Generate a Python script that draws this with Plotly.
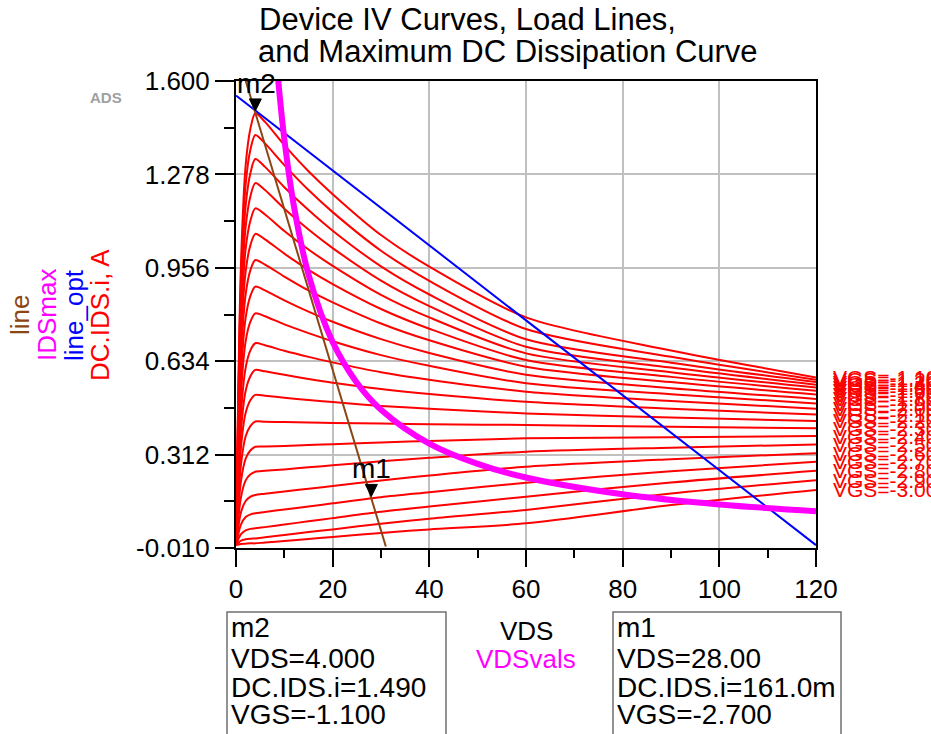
import plotly.graph_objects as go

# ---------------- data ----------------
VDS = [0, 1, 2, 3, 4, 6, 10, 15, 20, 30, 40, 60, 90, 120]
VGS = [-1.1, -1.2, -1.3, -1.4, -1.5, -1.6, -1.7, -1.8, -1.9, -2.0,
       -2.1, -2.2, -2.3, -2.4, -2.5, -2.6, -2.7, -2.8, -2.9, -3.0]

IDS_M110 = [0, 0.953, 1.310, 1.437, 1.489, 1.459, 1.379, 1.289, 1.210, 1.069, 0.960, 0.785, 0.671, 0.578]
IDS_M120 = [0, 0.905, 1.244, 1.365, 1.414, 1.385, 1.310, 1.224, 1.148, 1.015, 0.911, 0.745, 0.649, 0.570]
IDS_M130 = [0, 0.852, 1.171, 1.284, 1.331, 1.304, 1.234, 1.155, 1.084, 0.961, 0.864, 0.710, 0.629, 0.562]
IDS_M140 = [0, 0.799, 1.098, 1.204, 1.248, 1.224, 1.160, 1.088, 1.024, 0.912, 0.824, 0.684, 0.612, 0.553]
IDS_M150 = [0, 0.743, 1.022, 1.120, 1.161, 1.140, 1.083, 1.019, 0.963, 0.863, 0.785, 0.661, 0.596, 0.543]
IDS_M160 = [0, 0.687, 0.944, 1.035, 1.073, 1.054, 1.005, 0.949, 0.900, 0.814, 0.746, 0.638, 0.580, 0.532]
IDS_M170 = [0, 0.629, 0.865, 0.949, 0.983, 0.967, 0.926, 0.878, 0.837, 0.764, 0.706, 0.615, 0.562, 0.519]
IDS_M180 = [0, 0.570, 0.784, 0.860, 0.891, 0.878, 0.844, 0.805, 0.770, 0.710, 0.662, 0.587, 0.541, 0.504]
IDS_M190 = [0, 0.511, 0.703, 0.771, 0.799, 0.789, 0.761, 0.731, 0.703, 0.655, 0.618, 0.558, 0.520, 0.488]
IDS_M200 = [0, 0.445, 0.612, 0.672, 0.696, 0.689, 0.670, 0.649, 0.630, 0.596, 0.570, 0.529, 0.497, 0.470]
IDS_M210 = [0, 0.387, 0.532, 0.583, 0.604, 0.599, 0.587, 0.573, 0.560, 0.538, 0.521, 0.494, 0.470, 0.450]
IDS_M220 = [0, 0.332, 0.456, 0.500, 0.518, 0.515, 0.508, 0.500, 0.493, 0.480, 0.470, 0.454, 0.440, 0.428]
IDS_M230 = [0, 0.273, 0.375, 0.411, 0.426, 0.425, 0.424, 0.423, 0.421, 0.419, 0.417, 0.414, 0.408, 0.403]
IDS_M240 = [0, 0.217, 0.298, 0.327, 0.339, 0.340, 0.342, 0.345, 0.348, 0.354, 0.359, 0.368, 0.372, 0.376]
IDS_M250 = [0, 0.162, 0.223, 0.244, 0.253, 0.256, 0.261, 0.268, 0.275, 0.289, 0.301, 0.322, 0.336, 0.347]
IDS_M260 = [0, 0.111, 0.152, 0.167, 0.173, 0.177, 0.185, 0.194, 0.204, 0.223, 0.240, 0.270, 0.296, 0.317]
IDS_M270 = [0, 0.070, 0.097, 0.106, 0.110, 0.114, 0.123, 0.133, 0.144, 0.165, 0.182, 0.215, 0.255, 0.287]
IDS_M280 = [0, 0.037, 0.051, 0.056, 0.058, 0.062, 0.071, 0.082, 0.093, 0.115, 0.133, 0.167, 0.216, 0.256]
IDS_M290 = [0, 0.015, 0.020, 0.022, 0.023, 0.027, 0.035, 0.045, 0.054, 0.074, 0.091, 0.121, 0.178, 0.224]
IDS_M300 = [0, 0.004, 0.005, 0.006, 0.006, 0.009, 0.014, 0.021, 0.028, 0.042, 0.054, 0.075, 0.138, 0.190]

IDS_CURVES = [IDS_M110, IDS_M120, IDS_M130, IDS_M140, IDS_M150, IDS_M160, IDS_M170,
              IDS_M180, IDS_M190, IDS_M200, IDS_M210, IDS_M220, IDS_M230, IDS_M240,
              IDS_M250, IDS_M260, IDS_M270, IDS_M280, IDS_M290, IDS_M300]

# maximum DC dissipation curve
VDSVALS = [8, 9, 10, 12, 15, 20, 25, 30, 40, 50, 60, 80, 100, 120]
IDSMAX = [1.750, 1.556, 1.400, 1.167, 0.933, 0.700, 0.560, 0.467, 0.350, 0.280, 0.233, 0.175, 0.140, 0.117]

# load lines
LINE_OPT_VDS = [0, 120]
LINE_OPT_IDS = [1.550, 0.000]
LINE_VDS = [0, 31.0]
LINE_IDS = [1.712, -0.005]

# markers
M1_VDS, M1_IDS, M1_VGS = 28.0, 0.161, -2.7
M2_VDS, M2_IDS, M2_VGS = 4.0, 1.490, -1.1

Y_TICKS = [-0.010, 0.312, 0.634, 0.956, 1.278, 1.600]
Y_MINOR = [0.151, 0.473, 0.795, 1.117, 1.439]
X_TICKS = [0, 20, 40, 60, 80, 100, 120]
X_MINOR = [10, 30, 50, 70, 90, 110]

# ---------------- layout geometry (pixels) ----------------
W, H = 931, 734
L, R, T, B = 236, 115, 81, 186
PW, PH = W - L - R, H - T - B
FONT = "Liberation Sans, Arial, sans-serif"


def px(p):
    return (p - L) / PW


def py(p):
    return (H - B - p) / PH


RED, BLUE, MAG, BROWN = "#ff0000", "#0000ff", "#ff00ff", "#8b4513"

fig = go.Figure()

for ids in IDS_CURVES:
    fig.add_trace(go.Scatter(x=VDS, y=ids, mode="lines",
                             line=dict(color=RED, width=2, shape="spline", smoothing=0.8),
                             hoverinfo="skip"))

fig.add_trace(go.Scatter(x=LINE_OPT_VDS, y=LINE_OPT_IDS, mode="lines",
                         line=dict(color=BLUE, width=2), hoverinfo="skip"))
fig.add_trace(go.Scatter(x=VDSVALS, y=IDSMAX, mode="lines",
                         line=dict(color=MAG, width=6, shape="spline"), hoverinfo="skip"))
fig.add_trace(go.Scatter(x=LINE_VDS, y=LINE_IDS, mode="lines",
                         line=dict(color=BROWN, width=2), hoverinfo="skip"))

ann = []


def text(x, y, s, size, color="black", xanchor="center", angle=0):
    ann.append(dict(x=x, y=y, xref="paper", yref="paper", text=s, showarrow=False,
                    xanchor=xanchor, yanchor="middle", textangle=angle,
                    font=dict(family=FONT, size=size, color=color)))


# title
text(px(257), py(19), "Device IV Curves, Load Lines,", 31, xanchor="left")
text(px(256), py(52), "and Maximum DC Dissipation Curve", 31, xanchor="left")

# y-axis titles (rotated, stacked)
text(px(20), py(315), "line", 26, BROWN, angle=-90)
text(px(47), py(315), "IDSmax", 26, MAG, angle=-90)
text(px(74), py(315), "line_opt", 26, BLUE, angle=-90)
text(px(100), py(315), "DC.IDS.i, A", 26, RED, angle=-90)

# x-axis titles
text(0.5, py(631), "VDS", 26, "black")
text(0.5, py(659), "VDSvals", 26, MAG)

# ADS logo
text(px(106), py(97), "<b>ADS</b>", 15, "#a0a0a0")

# marker labels
text(px(256), py(83), "m2", 28)
text(px(371), py(468), "m1", 28)

# marker readout boxes
box_lines_m2 = ["m2", "VDS=%.3f" % M2_VDS, "DC.IDS.i=%.3f" % M2_IDS, "VGS=%.3f" % M2_VGS]
box_lines_m1 = ["m1", "VDS=%.2f" % M1_VDS, "DC.IDS.i=%.1fm" % (M1_IDS * 1000), "VGS=%.3f" % M1_VGS]
for i, yc in enumerate([627, 658, 687, 714]):
    text(px(229), py(yc), box_lines_m2[i], 28, xanchor="left")
    text(px(615), py(yc), box_lines_m1[i], 28, xanchor="left")

# trace end labels
for v, ids in zip(VGS, IDS_CURVES):
    ann.append(dict(x=VDS[-1], y=ids[-1], xref="x", yref="y", text="VGS=%.2f" % v,
                    showarrow=False, xanchor="left", yanchor="middle", xshift=15,
                    font=dict(family=FONT, size=21, color=RED)))

shapes = [
    dict(type="rect", xref="paper", yref="paper", x0=px(227), x1=px(446), y0=py(612), y1=py(770),
         line=dict(color="#707070", width=1.5), fillcolor="rgba(0,0,0,0)"),
    dict(type="rect", xref="paper", yref="paper", x0=px(613), x1=px(841), y0=py(612), y1=py(770),
         line=dict(color="#707070", width=1.5), fillcolor="rgba(0,0,0,0)"),
]
for mx, my in [(M1_VDS, M1_IDS), (M2_VDS, M2_IDS)]:
    shapes.append(dict(type="path", xref="x", yref="y", xsizemode="pixel", ysizemode="pixel",
                       xanchor=mx, yanchor=my, path="M-6,14 L6,14 L0,2 Z",
                       fillcolor="black", line=dict(color="black", width=1)))

axis_common = dict(showline=True, linecolor="black", linewidth=2, mirror=True,
                   showgrid=True, gridcolor="#c0c0c0", gridwidth=2, zeroline=False,
                   ticks="outside", tickcolor="black", tickwidth=2,
                   tickfont=dict(family=FONT, size=26, color="black"))

fig.update_layout(
    width=W, height=H, margin=dict(l=L, r=R, t=T, b=B, pad=0),
    paper_bgcolor="white", plot_bgcolor="white", showlegend=False,
    font=dict(family=FONT),
    xaxis=dict(range=[0, 120], tickmode="array", tickvals=X_TICKS, ticklen=17,
               minor=dict(tickmode="array", tickvals=X_MINOR, ticklen=8, tickwidth=2,
                          tickcolor="black", ticks="outside", showgrid=False),
               **axis_common),
    yaxis=dict(range=[-0.010, 1.6001], tickmode="array", tickvals=Y_TICKS,
               ticktext=["%.3f" % t for t in Y_TICKS], ticklen=19,
               minor=dict(tickmode="array", tickvals=Y_MINOR, ticklen=10, tickwidth=2,
                          tickcolor="black", ticks="outside", showgrid=False),
               **axis_common),
    annotations=ann, shapes=shapes,
)

fig.write_html("out.html")
